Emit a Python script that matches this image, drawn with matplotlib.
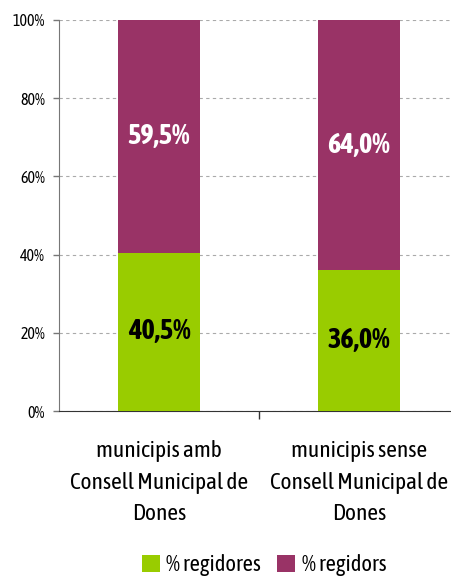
import matplotlib
matplotlib.use("Agg")
import matplotlib.pyplot as plt
from matplotlib import font_manager as fm

categories = ["municipis amb\nConsell Municipal de\nDones", "municipis sense\nConsell Municipal de\nDones"]
regidores = [40.5, 36.0]
regidors = [59.5, 64.0]
labels_regidores = ["40,5%", "36,0%"]
labels_regidors = ["59,5%", "64,0%"]
series_names = ["% regidores", "% regidors"]
yticks = [0, 20, 40, 60, 80, 100]
ytick_labels = ["0%", "20%", "40%", "60%", "80%", "100%"]

# look for a narrow/condensed font family that has regular and bold faces
fams = {}
for f in fm.fontManager.ttflist:
    if "Narrow" in f.name or "Condensed" in f.name:
        w = f.weight if isinstance(f.weight, int) else fm.weight_dict.get(f.weight, 400)
        fams.setdefault(f.name, set()).add(w)
narrow = None
for name, ws in fams.items():
    if 400 in ws and any(w >= 700 for w in ws):
        narrow = name
        break
if narrow is None and fams:
    narrow = list(fams)[0]
fam = narrow if narrow else "Liberation Sans"
plt.rcParams['font.family'] = [fam, 'DejaVu Sans']
scale = 1.2 if narrow else 1.0

green = "#99CC00"
purple = "#993366"

W, H = 451, 577
fig = plt.figure(figsize=(W/100, H/100), dpi=100)
ax = fig.add_axes([59/W, 1-411/H, 400/W, 391/H])

x = list(range(len(categories)))
ax.bar(x, regidores, width=0.41, color=green, zorder=3, label=series_names[0])
ax.bar(x, regidors, width=0.41, bottom=regidores, color=purple, zorder=3, label=series_names[1])

for i in x:
    ax.text(i, regidores[i]/2, labels_regidores[i], ha='center', va='center',
            fontsize=17*scale, fontweight='bold', color='black', zorder=4)
    ax.text(i, regidores[i] + regidors[i]/2, labels_regidors[i], ha='center', va='center',
            fontsize=17*scale, fontweight='bold', color='white', zorder=4)

ax.set_xlim(-0.5, 1.5)
ax.set_ylim(0, 100)
ax.set_yticks(yticks)
ax.set_yticklabels(ytick_labels, fontsize=9.5*scale)
ax.yaxis.grid(True, linestyle=(0, (3, 3)), color='#AAAAAA', linewidth=0.8, zorder=0)
ax.set_xticks([0.5])
ax.set_xticklabels([""])
ax.tick_params(axis='x', length=6, width=1, color='#333333')
ax.tick_params(axis='y', length=4, width=1, color='#777777', pad=6)
for i, c in enumerate(categories):
    ax.text(i, -7.5, c, ha='center', va='top', fontsize=14*scale, linespacing=1.55,
            transform=ax.transData, clip_on=False)

for s in ['top', 'right']:
    ax.spines[s].set_visible(False)
ax.spines['left'].set_color('#777777')
ax.spines['bottom'].set_color('#333333')

fig.legend(loc='center', bbox_to_anchor=(264/W, 1-565/H), ncol=2, frameon=False,
           fontsize=13.5*scale, handlelength=0.8, handleheight=0.8, handletextpad=0.3,
           columnspacing=0.7)

fig.savefig("out.png", dpi=100)
